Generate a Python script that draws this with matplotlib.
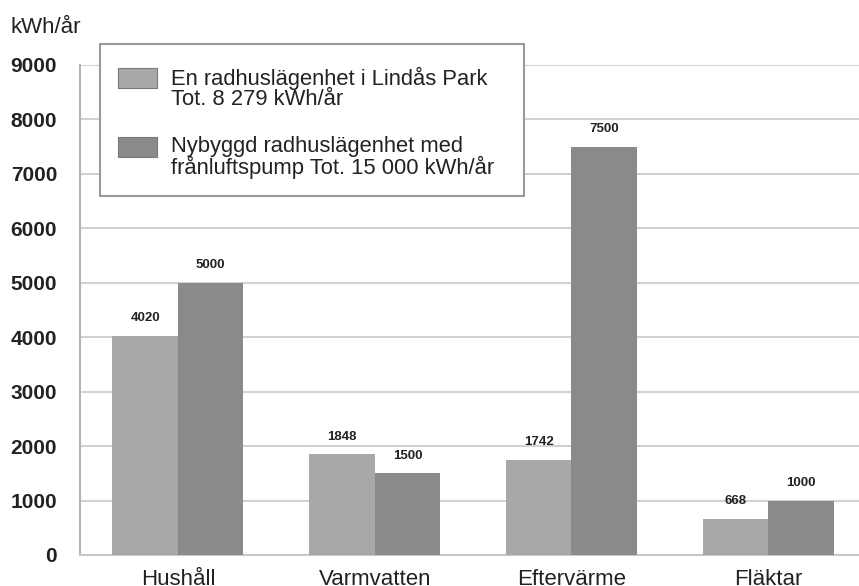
import matplotlib
matplotlib.use("Agg")
import matplotlib.pyplot as plt
from matplotlib.patches import Rectangle
import numpy as np

categories = ["Hushåll", "Varmvatten", "Eftervärme", "Fläktar"]
lindas = [4020, 1848, 1742, 668]
nybyggd = [5000, 1500, 7500, 1000]
yticks = [0, 1000, 2000, 3000, 4000, 5000, 6000, 7000, 8000, 9000]
series_labels = ["En radhuslägenhet i Lindås Park\nTot. 8 279 kWh/år",
                 "Nybyggd radhuslägenhet med\nfrånluftspump Tot. 15 000 kWh/år"]
unit_label = "kWh/år"

light = "#a8a8a8"
dark = "#8a8a8a"
gridc = "#d2d2d2"

plt.rcParams['font.family'] = ['Liberation Sans', 'DejaVu Sans']

W, H = 859, 586
fig = plt.figure(figsize=(W / 100, H / 100), dpi=100)
ax = fig.add_axes([80 / W, 31 / H, (W - 80) / W, 490 / H])

x = np.arange(len(categories))
bw = 0.333
b1 = ax.bar(x - bw / 2, lindas, bw, color=light, zorder=3)
b2 = ax.bar(x + bw / 2, nybyggd, bw, color=dark, zorder=3)

for bars, vals in ((b1, lindas), (b2, nybyggd)):
    for r, v in zip(bars, vals):
        ax.annotate(str(v), (r.get_x() + r.get_width() / 2, v),
                    xytext=(0, 8.5), textcoords="offset points",
                    ha="center", va="bottom", fontsize=9.5,
                    fontweight="bold", color="#222222")

ax.set_xlim(-0.498, 3.462)
ax.set_ylim(0, 9000)
ax.set_yticks(yticks)
ax.set_yticklabels([str(t) for t in yticks], fontsize=15, fontweight="bold",
                   color="#222222")
ax.set_xticks(x)
ax.set_xticklabels(categories, fontsize=16, color="#222222")
ax.tick_params(axis="y", length=0, pad=16.5)
ax.tick_params(axis="x", length=0, pad=10)
ax.yaxis.grid(True, color=gridc, lw=1.5, zorder=0)
ax.set_axisbelow(True)
for s in ("top", "right"):
    ax.spines[s].set_visible(False)
ax.spines["left"].set_color("#b5b5b5")
ax.spines["left"].set_linewidth(1.5)
ax.spines["bottom"].set_color("#c8c8c8")
ax.spines["bottom"].set_linewidth(1.5)

fig.text(10 / W, 1 - 33 / H, unit_label, fontsize=16, color="#222222",
         ha="left", va="baseline")

# legend box
lx0, lx1, ly0, ly1 = 100, 524, 44, 196
fig.patches.append(Rectangle((lx0 / W, 1 - ly1 / H), (lx1 - lx0) / W, (ly1 - ly0) / H,
                             transform=fig.transFigure, facecolor="white",
                             edgecolor="#9a9a9a", lw=1.5, zorder=5))
for i, (col, lab) in enumerate(zip([light, dark], series_labels)):
    py = 68 + i * 69
    fig.patches.append(Rectangle((118 / W, 1 - (py + 20) / H), 39 / W, 20 / H,
                                 transform=fig.transFigure, facecolor=col,
                                 edgecolor="#7a7a7a", lw=0.8, zorder=6))
    fig.text(171 / W, 1 - (py - 1) / H, lab, fontsize=15.8, color="#222222",
             ha="left", va="top", linespacing=0.92, zorder=7)

fig.savefig("out.png", dpi=100)
